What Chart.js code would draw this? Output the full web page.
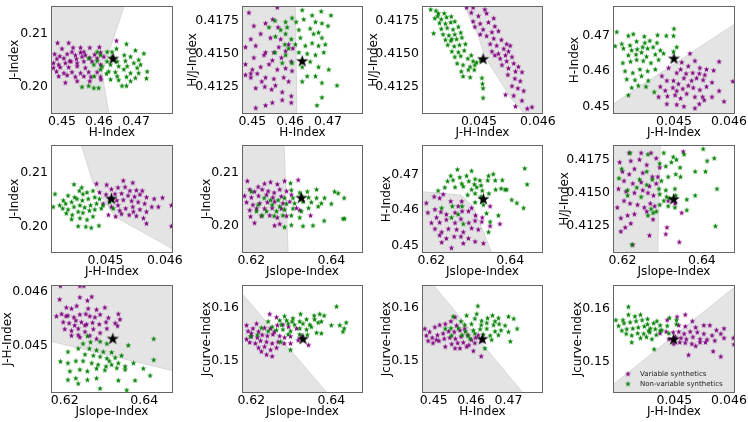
<!DOCTYPE html>
<html>
<head>
<meta charset="utf-8">
<script src="https://cdn.jsdelivr.net/npm/chart.js@4.4.1/dist/chart.umd.min.js"></script>
<style>
  html, body { margin: 0; padding: 0; background: #fff; }
  #wrap { position: relative; width: 748px; height: 422px; overflow: hidden; }
  #wrap canvas { position: absolute; }
</style>
</head>
<body>
<div id="wrap"></div>
<script>
/* ---- tick values & labels ---- */
const hTicks  = [0.45, 0.46, 0.47];
const jTicks  = [0.20, 0.21];
const hjTicks = [0.4125, 0.4150, 0.4175];
const jhTicks = [0.045, 0.046];
const jsTicks = [0.62, 0.64];
const jcTicks = [0.15, 0.16];
const legendLabels = ['Variable synthetics', 'Non-variable synthetics'];

/* ---- P1: H vs J ---- */
const p1Purple = [[0.4488,0.2082],[0.4518,0.2082],[0.4647,0.2086],[0.4500,0.2071],[0.4530,0.2073],[0.4550,0.2073],[0.4575,0.2073],[0.4601,0.2074],[0.4480,0.2061],[0.4494,0.2057],[0.4514,0.2061],[0.4527,0.2065],[0.4550,0.2064],[0.4563,0.2059],[0.4588,0.2060],[0.4604,0.2064],[0.4486,0.2052],[0.4505,0.2053],[0.4521,0.2048],[0.4539,0.2052],[0.4554,0.2056],[0.4575,0.2054],[0.4595,0.2053],[0.4477,0.2044],[0.4491,0.2041],[0.4509,0.2044],[0.4524,0.2047],[0.4541,0.2044],[0.4559,0.2047],[0.4581,0.2047],[0.4477,0.2035],[0.4495,0.2036],[0.4518,0.2036],[0.4541,0.2038],[0.4563,0.2035],[0.4604,0.2041],[0.4485,0.2028],[0.4505,0.2025],[0.4527,0.2027],[0.4550,0.2025],[0.4572,0.2027],[0.4595,0.2027],[0.4491,0.2019],[0.4514,0.2021],[0.4536,0.2018],[0.4559,0.2019],[0.4578,0.2018],[0.4604,0.2018],[0.4509,0.2007],[0.4541,0.2010],[0.4575,0.2010],[0.4605,0.2013],[0.4559,0.2065],[0.4536,0.2059],[0.4613,0.2056]];
const p1Green = [[0.4674,0.2080],[0.4647,0.2071],[0.4698,0.2068],[0.4721,0.2062],[0.4595,0.2065],[0.4622,0.2065],[0.4668,0.2059],[0.4604,0.2059],[0.4635,0.2056],[0.4685,0.2056],[0.4707,0.2050],[0.4572,0.2053],[0.4595,0.2048],[0.4622,0.2047],[0.4649,0.2047],[0.4671,0.2048],[0.4694,0.2044],[0.4712,0.2041],[0.4586,0.2041],[0.4608,0.2038],[0.4631,0.2041],[0.4653,0.2038],[0.4676,0.2038],[0.4703,0.2035],[0.4604,0.2032],[0.4626,0.2028],[0.4644,0.2027],[0.4667,0.2032],[0.4685,0.2025],[0.4730,0.2028],[0.4707,0.2025],[0.4620,0.2024],[0.4649,0.2019],[0.4674,0.2018],[0.4698,0.2016],[0.4728,0.2015],[0.4587,0.2019],[0.4631,0.2013],[0.4653,0.2012],[0.4685,0.2010],[0.4554,0.1999],[0.4572,0.2001],[0.4586,0.1997],[0.4599,0.1997],[0.4662,0.2001],[0.4674,0.2001],[0.4635,0.2065]];
const p1Star = [[0.4638,0.2052]];
const p1Region = [[0.4460,0.2165],[0.4674,0.2165],[0.4608,0.20255],[0.4630,0.1935],[0.4460,0.1935]];

/* ---- P2: H vs H/J ---- */
const p2Purple = [[0.4566,0.4185],[0.4491,0.4181],[0.4504,0.4171],[0.4535,0.4173],[0.4554,0.4176],[0.4568,0.4170],[0.4496,0.4161],[0.4522,0.4165],[0.4548,0.4162],[0.4575,0.4161],[0.4596,0.4157],[0.4482,0.4155],[0.4509,0.4156],[0.4535,0.4151],[0.4557,0.4151],[0.4570,0.4155],[0.4588,0.4152],[0.4607,0.4154],[0.4504,0.4147],[0.4531,0.4149],[0.4553,0.4145],[0.4577,0.4147],[0.4603,0.4144],[0.4482,0.4142],[0.4500,0.4138],[0.4522,0.4140],[0.4544,0.4142],[0.4566,0.4138],[0.4588,0.4139],[0.4605,0.4137],[0.4482,0.4134],[0.4496,0.4132],[0.4513,0.4135],[0.4535,0.4132],[0.4557,0.4131],[0.4583,0.4132],[0.4596,0.4129],[0.4509,0.4124],[0.4533,0.4125],[0.4551,0.4123],[0.4579,0.4121],[0.4603,0.4118],[0.4603,0.4113],[0.4509,0.4109],[0.4535,0.4111],[0.4553,0.4113],[0.4579,0.4115],[0.4496,0.4135],[0.4525,0.4129],[0.4561,0.4126]];
const p2Green = [[0.4632,0.4183],[0.4605,0.4177],[0.4658,0.4179],[0.4682,0.4182],[0.4708,0.4179],[0.4560,0.4175],[0.4588,0.4174],[0.4616,0.4174],[0.4636,0.4176],[0.4667,0.4174],[0.4684,0.4173],[0.4700,0.4171],[0.4544,0.4170],[0.4575,0.4168],[0.4592,0.4170],[0.4623,0.4168],[0.4653,0.4169],[0.4675,0.4166],[0.4561,0.4163],[0.4588,0.4165],[0.4603,0.4161],[0.4627,0.4162],[0.4662,0.4165],[0.4684,0.4162],[0.4586,0.4157],[0.4614,0.4157],[0.4640,0.4156],[0.4658,0.4158],[0.4675,0.4156],[0.4693,0.4157],[0.4560,0.4151],[0.4588,0.4149],[0.4623,0.4151],[0.4645,0.4150],[0.4667,0.4149],[0.4689,0.4151],[0.4579,0.4143],[0.4605,0.4143],[0.4632,0.4140],[0.4653,0.4144],[0.4675,0.4140],[0.4702,0.4138],[0.4645,0.4133],[0.4667,0.4133],[0.4684,0.4128],[0.4724,0.4126],[0.4684,0.4117],[0.4671,0.4111],[0.4632,0.4129],[0.4596,0.4154]];
const p2Star = [[0.4632,0.41444]];
const p2Region = [[0.4460,0.4190],[0.4614,0.4190],[0.4618,0.4100],[0.4460,0.4100]];

/* ---- P3: J-H vs H/J ---- */
const p3Purple = [[0.04479,0.41849],[0.04490,0.41849],[0.04510,0.41834],[0.04487,0.41810],[0.04499,0.41785],[0.04513,0.41805],[0.04525,0.41768],[0.04490,0.41744],[0.04502,0.41727],[0.04516,0.41737],[0.04527,0.41707],[0.04493,0.41703],[0.04507,0.41683],[0.04522,0.41663],[0.04533,0.41671],[0.04547,0.41573],[0.04502,0.41646],[0.04513,0.41634],[0.04525,0.41615],[0.04538,0.41605],[0.04519,0.41573],[0.04530,0.41561],[0.04542,0.41537],[0.04550,0.41517],[0.04522,0.41517],[0.04533,0.41500],[0.04545,0.41488],[0.04556,0.41476],[0.04536,0.41463],[0.04547,0.41444],[0.04559,0.41427],[0.04567,0.41402],[0.04539,0.41415],[0.04550,0.41390],[0.04562,0.41366],[0.04573,0.41361],[0.04549,0.41341],[0.04561,0.41312],[0.04570,0.41293],[0.04556,0.41256],[0.04566,0.41239],[0.04576,0.41219],[0.04545,0.41190],[0.04559,0.41183],[0.04573,0.41146],[0.04582,0.41085],[0.04590,0.41097],[0.04562,0.41102],[0.04527,0.41488],[0.04553,0.41561]];
const p3Green = [[0.04418,0.41834],[0.04427,0.41825],[0.04431,0.41805],[0.04441,0.41805],[0.04425,0.41768],[0.04436,0.41761],[0.04445,0.41776],[0.04453,0.41781],[0.04423,0.41654],[0.04433,0.41732],[0.04443,0.41727],[0.04452,0.41737],[0.04459,0.41744],[0.04436,0.41688],[0.04446,0.41695],[0.04456,0.41683],[0.04465,0.41703],[0.04439,0.41646],[0.04449,0.41639],[0.04459,0.41646],[0.04469,0.41659],[0.04443,0.41605],[0.04452,0.41598],[0.04462,0.41610],[0.04471,0.41622],[0.04447,0.41566],[0.04458,0.41556],[0.04467,0.41566],[0.04477,0.41573],[0.04454,0.41517],[0.04465,0.41512],[0.04475,0.41524],[0.04459,0.41476],[0.04469,0.41483],[0.04481,0.41463],[0.04490,0.41444],[0.04496,0.41434],[0.04463,0.41427],[0.04473,0.41415],[0.04485,0.41402],[0.04493,0.41415],[0.04470,0.41366],[0.04482,0.41378],[0.04492,0.41378],[0.04473,0.41329],[0.04485,0.41322],[0.04505,0.41317],[0.04506,0.41273],[0.04507,0.41239],[0.04507,0.41166],[0.04503,0.41451],[0.04487,0.41488],[0.04454,0.41610],[0.04430,0.41785]];
const p3Star = [[0.04507,0.41459]];
const p3Region = [[0.04474,0.4190],[0.04476,0.41854],[0.04499,0.41634],[0.04510,0.41476],[0.04533,0.41317],[0.04553,0.41171],[0.04576,0.41053],[0.04580,0.4100],[0.0462,0.4100],[0.0462,0.4190]];

/* ---- P4: J-H vs H ---- */
const p4Purple = [[0.04529,0.4650],[0.04538,0.4629],[0.04490,0.4609],[0.04514,0.4625],[0.04526,0.4614],[0.04547,0.4609],[0.04559,0.4605],[0.04572,0.4602],[0.04582,0.4627],[0.04505,0.4595],[0.04512,0.4605],[0.04522,0.4593],[0.04534,0.4595],[0.04546,0.4593],[0.04556,0.4589],[0.04478,0.4586],[0.04487,0.4573],[0.04499,0.4573],[0.04508,0.4564],[0.04518,0.4580],[0.04532,0.4573],[0.04541,0.4580],[0.04553,0.4575],[0.04569,0.4568],[0.04607,0.4571],[0.04475,0.4556],[0.04484,0.4545],[0.04498,0.4553],[0.04505,0.4544],[0.04516,0.4550],[0.04526,0.4559],[0.04535,0.4553],[0.04547,0.4547],[0.04559,0.4556],[0.04582,0.4544],[0.04472,0.4527],[0.04488,0.4529],[0.04502,0.4532],[0.04512,0.4523],[0.04523,0.4536],[0.04538,0.4527],[0.04552,0.4527],[0.04569,0.4527],[0.04487,0.4507],[0.04505,0.4505],[0.04518,0.4500],[0.04538,0.4495],[0.04546,0.4507],[0.04591,0.4514],[0.04555,0.4518]];
const p4Green = [[0.04396,0.4711],[0.04417,0.4700],[0.04426,0.4705],[0.04446,0.4698],[0.04470,0.4702],[0.04486,0.4700],[0.04500,0.4720],[0.04405,0.4677],[0.04420,0.4673],[0.04432,0.4684],[0.04447,0.4680],[0.04456,0.4686],[0.04469,0.4680],[0.04505,0.4668],[0.04408,0.4664],[0.04423,0.4659],[0.04433,0.4662],[0.04443,0.4668],[0.04452,0.4664],[0.04462,0.4668],[0.04475,0.4659],[0.04417,0.4645],[0.04431,0.4647],[0.04441,0.4653],[0.04450,0.4641],[0.04466,0.4647],[0.04481,0.4650],[0.04407,0.4623],[0.04421,0.4627],[0.04432,0.4632],[0.04444,0.4629],[0.04458,0.4623],[0.04472,0.4632],[0.04499,0.4655],[0.04411,0.4600],[0.04425,0.4595],[0.04438,0.4605],[0.04452,0.4600],[0.04466,0.4605],[0.04414,0.4577],[0.04429,0.4575],[0.04441,0.4586],[0.04453,0.4573],[0.04435,0.4559],[0.04449,0.4556],[0.04423,0.4553],[0.04417,0.4532],[0.04464,0.4541],[0.04499,0.4700],[0.04393,0.4671]];
const p4Star = [[0.04500,0.4635]];
const p4Region = [[0.0435,0.4467],[0.0465,0.4774],[0.0465,0.4400],[0.0435,0.4400]];

/* ---- P5: J-H vs J ---- */
const p5Purple = [[0.04485,0.2079],[0.04502,0.2077],[0.04530,0.2085],[0.04546,0.2081],[0.04510,0.2069],[0.04521,0.2072],[0.04533,0.2073],[0.04541,0.2066],[0.04552,0.2067],[0.04562,0.2066],[0.04490,0.2063],[0.04501,0.2059],[0.04516,0.2060],[0.04527,0.2061],[0.04538,0.2057],[0.04549,0.2055],[0.04558,0.2059],[0.04569,0.2054],[0.04582,0.2051],[0.04596,0.2053],[0.04507,0.2051],[0.04519,0.2048],[0.04530,0.2049],[0.04544,0.2047],[0.04555,0.2045],[0.04566,0.2042],[0.04578,0.2036],[0.04589,0.2036],[0.04611,0.2039],[0.04496,0.2042],[0.04510,0.2036],[0.04521,0.2039],[0.04534,0.2033],[0.04546,0.2036],[0.04558,0.2031],[0.04569,0.2027],[0.04505,0.2021],[0.04517,0.2018],[0.04527,0.2023],[0.04540,0.2021],[0.04552,0.2019],[0.04564,0.2015],[0.04569,0.2005],[0.04611,0.2000],[0.04547,0.2027],[0.04524,0.2029]];
const p5Green = [[0.04415,0.2060],[0.04429,0.2048],[0.04437,0.2057],[0.04447,0.2078],[0.04456,0.2066],[0.04462,0.2060],[0.04469,0.2063],[0.04479,0.2066],[0.04423,0.2039],[0.04433,0.2042],[0.04443,0.2045],[0.04452,0.2051],[0.04461,0.2048],[0.04471,0.2051],[0.04482,0.2054],[0.04490,0.2051],[0.04428,0.2033],[0.04437,0.2031],[0.04447,0.2036],[0.04457,0.2039],[0.04465,0.2035],[0.04475,0.2039],[0.04485,0.2042],[0.04496,0.2039],[0.04434,0.2024],[0.04444,0.2021],[0.04454,0.2027],[0.04462,0.2025],[0.04473,0.2029],[0.04482,0.2031],[0.04493,0.2033],[0.04443,0.2013],[0.04457,0.2015],[0.04469,0.2012],[0.04479,0.2018],[0.04454,0.2000],[0.04467,0.1999],[0.04476,0.1997],[0.04489,0.2001],[0.04412,0.2036],[0.04513,0.2033],[0.04507,0.2045],[0.04448,0.2054],[0.04460,0.2072]];
const p5Star = [[0.04510,0.2051]];
const p5Region = [[0.04457,0.2160],[0.04480,0.20779],[0.04516,0.20180],[0.04625,0.19505],[0.0463,0.2160]];

/* ---- P6: Jslope vs J ---- */
const p6Purple = [[0.6190,0.2084],[0.6217,0.2073],[0.6233,0.2079],[0.6248,0.2082],[0.6265,0.2078],[0.6283,0.2084],[0.6317,0.2086],[0.6196,0.2068],[0.6208,0.2064],[0.6227,0.2068],[0.6242,0.2065],[0.6257,0.2062],[0.6271,0.2068],[0.6288,0.2065],[0.6183,0.2056],[0.6200,0.2053],[0.6218,0.2056],[0.6238,0.2058],[0.6254,0.2053],[0.6275,0.2055],[0.6300,0.2058],[0.6188,0.2044],[0.6204,0.2039],[0.6221,0.2042],[0.6240,0.2044],[0.6258,0.2045],[0.6279,0.2042],[0.6296,0.2045],[0.6196,0.2029],[0.6213,0.2032],[0.6233,0.2032],[0.6252,0.2033],[0.6275,0.2032],[0.6313,0.2033],[0.6348,0.2019],[0.6225,0.2018],[0.6246,0.2019],[0.6265,0.2015],[0.6288,0.2018],[0.6208,0.2005],[0.6258,0.2000],[0.6271,0.2003],[0.6198,0.2017],[0.6321,0.2029]];
const p6Green = [[0.6298,0.2080],[0.6200,0.2064],[0.6232,0.2052],[0.6300,0.2067],[0.6321,0.2062],[0.6340,0.2064],[0.6363,0.2068],[0.6408,0.2064],[0.6417,0.2061],[0.6248,0.2048],[0.6267,0.2048],[0.6283,0.2052],[0.6304,0.2052],[0.6325,0.2056],[0.6343,0.2053],[0.6363,0.2052],[0.6383,0.2052],[0.6432,0.2052],[0.6217,0.2039],[0.6252,0.2039],[0.6271,0.2036],[0.6288,0.2041],[0.6308,0.2042],[0.6329,0.2045],[0.6350,0.2044],[0.6375,0.2042],[0.6400,0.2041],[0.6213,0.2027],[0.6238,0.2027],[0.6263,0.2027],[0.6283,0.2030],[0.6304,0.2032],[0.6325,0.2027],[0.6343,0.2033],[0.6367,0.2036],[0.6227,0.2019],[0.6257,0.2018],[0.6279,0.2019],[0.6300,0.2019],[0.6321,0.2015],[0.6433,0.2013],[0.6283,0.1997],[0.6300,0.2001],[0.6329,0.1999],[0.6354,0.2000],[0.6382,0.2009],[0.6429,0.2013]];
const p6Star = [[0.6325,0.2052]];
const p6Region = [[0.6170,0.2160],[0.62815,0.2160],[0.62925,0.1940],[0.6170,0.1940]];

/* ---- P7: Jslope vs H ---- */
const p7Purple = [[0.6187,0.4620],[0.6207,0.4638],[0.6221,0.4634],[0.6230,0.4645],[0.6249,0.4625],[0.6277,0.4625],[0.6302,0.4606],[0.6191,0.4593],[0.6209,0.4602],[0.6224,0.4595],[0.6238,0.4588],[0.6260,0.4593],[0.6278,0.4597],[0.6294,0.4597],[0.6312,0.4585],[0.6329,0.4579],[0.6349,0.4611],[0.6374,0.4561],[0.6200,0.4564],[0.6221,0.4565],[0.6238,0.4573],[0.6260,0.4564],[0.6275,0.4575],[0.6295,0.4564],[0.6311,0.4570],[0.6328,0.4567],[0.6209,0.4547],[0.6226,0.4538],[0.6243,0.4547],[0.6264,0.4545],[0.6281,0.4538],[0.6302,0.4549],[0.6319,0.4545],[0.6349,0.4555],[0.6221,0.4529],[0.6238,0.4520],[0.6258,0.4525],[0.6275,0.4525],[0.6294,0.4520],[0.6311,0.4511],[0.6332,0.4506],[0.6251,0.4493],[0.6226,0.4509],[0.6281,0.4506],[0.6213,0.4579],[0.6268,0.4611]];
const p7Green = [[0.6266,0.4715],[0.6302,0.4711],[0.6437,0.4718],[0.6249,0.4697],[0.6272,0.4693],[0.6289,0.4697],[0.6311,0.4688],[0.6323,0.4684],[0.6345,0.4697],[0.6357,0.4702],[0.6241,0.4682],[0.6255,0.4685],[0.6277,0.4675],[0.6295,0.4682],[0.6309,0.4673],[0.6326,0.4670],[0.6343,0.4684],[0.6362,0.4684],[0.6380,0.4685],[0.6391,0.4658],[0.6217,0.4655],[0.6234,0.4664],[0.6260,0.4665],[0.6281,0.4667],[0.6302,0.4658],[0.6315,0.4665],[0.6329,0.4655],[0.6346,0.4647],[0.6363,0.4658],[0.6377,0.4661],[0.6387,0.4658],[0.6443,0.4673],[0.6292,0.4643],[0.6311,0.4647],[0.6326,0.4638],[0.6404,0.4629],[0.6417,0.4620],[0.6434,0.4606],[0.6226,0.4606],[0.6253,0.4611],[0.6278,0.4611],[0.6311,0.4622],[0.6329,0.4625],[0.6340,0.4591],[0.6370,0.4585],[0.6349,0.4567],[0.6345,0.4538],[0.6332,0.4615],[0.6251,0.4579],[0.6268,0.4588],[0.6281,0.4561]];
const p7Star = [[0.6332,0.4631]];
const p7Region = [[0.6170,0.4653],[0.6275,0.4643],[0.6306,0.4611],[0.6355,0.4475],[0.6170,0.4475]];

/* ---- P8: Jslope vs H/J ---- */
const p8Purple = [[0.6217,0.4180],[0.6247,0.4180],[0.6272,0.4180],[0.6193,0.4173],[0.6221,0.4174],[0.6243,0.4175],[0.6261,0.4171],[0.6285,0.4176],[0.6294,0.4169],[0.6200,0.4166],[0.6217,0.4164],[0.6230,0.4168],[0.6251,0.4165],[0.6275,0.4162],[0.6289,0.4162],[0.6204,0.4159],[0.6226,0.4157],[0.6247,0.4158],[0.6268,0.4155],[0.6285,0.4157],[0.6190,0.4153],[0.6209,0.4151],[0.6230,0.4150],[0.6251,0.4152],[0.6264,0.4150],[0.6278,0.4148],[0.6187,0.4139],[0.6204,0.4144],[0.6219,0.4142],[0.6238,0.4141],[0.6255,0.4139],[0.6270,0.4142],[0.6281,0.4140],[0.6315,0.4144],[0.6332,0.4142],[0.6196,0.4131],[0.6213,0.4133],[0.6230,0.4134],[0.6261,0.4136],[0.6277,0.4130],[0.6207,0.4124],[0.6221,0.4127],[0.6196,0.4121],[0.6226,0.4111],[0.6268,0.4118],[0.6309,0.4119],[0.6312,0.4124],[0.6343,0.4113],[0.6349,0.4135],[0.6353,0.4181]];
const p8Green = [[0.6219,0.4180],[0.6264,0.4179],[0.6304,0.4180],[0.6328,0.4177],[0.6355,0.4179],[0.6403,0.4183],[0.6413,0.4174],[0.6431,0.4176],[0.6198,0.4168],[0.6261,0.4166],[0.6294,0.4172],[0.6309,0.4170],[0.6323,0.4173],[0.6336,0.4175],[0.6345,0.4169],[0.6383,0.4166],[0.6409,0.4166],[0.6191,0.4161],[0.6243,0.4160],[0.6275,0.4160],[0.6298,0.4159],[0.6315,0.4162],[0.6334,0.4164],[0.6346,0.4162],[0.6213,0.4152],[0.6236,0.4154],[0.6261,0.4156],[0.6292,0.4153],[0.6309,0.4152],[0.6332,0.4153],[0.6438,0.4153],[0.6213,0.4148],[0.6247,0.4147],[0.6294,0.4149],[0.6311,0.4147],[0.6334,0.4148],[0.6362,0.4145],[0.6383,0.4148],[0.6272,0.4138],[0.6294,0.4141],[0.6315,0.4140],[0.6332,0.4139],[0.6264,0.4133],[0.6277,0.4135],[0.6285,0.4136],[0.6362,0.4137],[0.6434,0.4125],[0.6224,0.4111],[0.6319,0.4146],[0.6304,0.4144]];
const p8Star = [[0.6329,0.41452]];
const p8Region = [[0.6170,0.4190],[0.62955,0.4190],[0.62885,0.4100],[0.6170,0.4100]];

/* ---- P9: Jslope vs J-H ---- */
const p9Purple = [[0.6189,0.04610],[0.6238,0.04610],[0.6248,0.04610],[0.6187,0.04585],[0.6238,0.04589],[0.6257,0.04583],[0.6268,0.04590],[0.6204,0.04570],[0.6217,0.04568],[0.6230,0.04573],[0.6259,0.04568],[0.6280,0.04566],[0.6301,0.04570],[0.6179,0.04554],[0.6192,0.04558],[0.6208,0.04555],[0.6223,0.04552],[0.6238,0.04557],[0.6253,0.04558],[0.6263,0.04554],[0.6276,0.04552],[0.6289,0.04557],[0.6310,0.04551],[0.6335,0.04558],[0.6196,0.04543],[0.6211,0.04541],[0.6225,0.04537],[0.6242,0.04543],[0.6255,0.04539],[0.6270,0.04542],[0.6287,0.04539],[0.6304,0.04543],[0.6327,0.04541],[0.6339,0.04548],[0.6200,0.04530],[0.6217,0.04527],[0.6234,0.04531],[0.6251,0.04525],[0.6272,0.04530],[0.6289,0.04523],[0.6306,0.04531],[0.6217,0.04518],[0.6238,0.04515],[0.6263,0.04518],[0.6280,0.04512],[0.6251,0.04537],[0.6228,0.04546],[0.6333,0.04536],[0.6234,0.04519],[0.6203,0.04554]];
const p9Green = [[0.6257,0.04517],[0.6246,0.04503],[0.6265,0.04506],[0.6289,0.04507],[0.6306,0.04503],[0.6360,0.04500],[0.6424,0.04512],[0.6208,0.04488],[0.6234,0.04494],[0.6262,0.04494],[0.6280,0.04491],[0.6297,0.04488],[0.6318,0.04487],[0.6251,0.04483],[0.6272,0.04481],[0.6289,0.04479],[0.6306,0.04476],[0.6327,0.04477],[0.6343,0.04481],[0.6189,0.04470],[0.6208,0.04467],[0.6228,0.04471],[0.6246,0.04471],[0.6268,0.04467],[0.6284,0.04464],[0.6304,0.04461],[0.6318,0.04464],[0.6335,0.04467],[0.6352,0.04461],[0.6373,0.04467],[0.6213,0.04452],[0.6238,0.04455],[0.6257,0.04452],[0.6280,0.04457],[0.6301,0.04454],[0.6331,0.04458],[0.6352,0.04455],[0.6398,0.04457],[0.6208,0.04436],[0.6228,0.04439],[0.6257,0.04436],[0.6280,0.04439],[0.6335,0.04435],[0.6356,0.04417],[0.6289,0.04420],[0.6424,0.04473],[0.6415,0.04444],[0.6377,0.04435],[0.6234,0.04429],[0.6312,0.04471]];
const p9Star = [[0.6321,0.045119]];
const p9Region = [[0.6160,0.045085],[0.6480,0.044518],[0.6480,0.0462],[0.6160,0.0462]];

/* ---- P10: Jslope vs Jcurve ---- */
const p10Purple = [[0.6188,0.1567],[0.6213,0.1570],[0.6246,0.1588],[0.6263,0.1582],[0.6192,0.1556],[0.6204,0.1561],[0.6218,0.1555],[0.6233,0.1562],[0.6248,0.1561],[0.6265,0.1567],[0.6279,0.1568],[0.6293,0.1564],[0.6313,0.1561],[0.6188,0.1541],[0.6200,0.1546],[0.6215,0.1544],[0.6227,0.1549],[0.6240,0.1547],[0.6254,0.1550],[0.6271,0.1547],[0.6283,0.1544],[0.6298,0.1546],[0.6317,0.1539],[0.6343,0.1530],[0.6196,0.1535],[0.6210,0.1533],[0.6223,0.1538],[0.6238,0.1536],[0.6252,0.1533],[0.6267,0.1536],[0.6282,0.1533],[0.6298,0.1533],[0.6218,0.1525],[0.6233,0.1527],[0.6248,0.1521],[0.6263,0.1525],[0.6238,0.1512],[0.6252,0.1509],[0.6225,0.1518],[0.6200,0.1552],[0.6325,0.1546],[0.6258,0.1555]];
const p10Green = [[0.6413,0.1602],[0.6283,0.1584],[0.6304,0.1580],[0.6323,0.1588],[0.6357,0.1585],[0.6371,0.1588],[0.6382,0.1585],[0.6242,0.1574],[0.6271,0.1576],[0.6288,0.1576],[0.6302,0.1574],[0.6321,0.1574],[0.6338,0.1578],[0.6358,0.1578],[0.6375,0.1574],[0.6225,0.1562],[0.6252,0.1564],[0.6275,0.1568],[0.6292,0.1570],[0.6308,0.1568],[0.6329,0.1570],[0.6346,0.1568],[0.6367,0.1572],[0.6400,0.1567],[0.6421,0.1567],[0.6437,0.1572],[0.6215,0.1549],[0.6242,0.1556],[0.6263,0.1558],[0.6279,0.1559],[0.6298,0.1556],[0.6321,0.1561],[0.6338,0.1559],[0.6350,0.1564],[0.6363,0.1553],[0.6375,0.1552],[0.6432,0.1561],[0.6429,0.1555],[0.6292,0.1550],[0.6321,0.1550],[0.6340,0.1549],[0.6273,0.1536],[0.6298,0.1521],[0.6198,0.1546]];
const p10Star = [[0.6329,0.15412]];
const p10Region = [[0.6170,0.16321],[0.6400,0.14314],[0.6170,0.1430]];

/* ---- P11: H vs Jcurve ---- */
const p11Purple = [[0.4476,0.1560],[0.4489,0.1554],[0.4503,0.1563],[0.4516,0.1567],[0.4531,0.1569],[0.4546,0.1574],[0.4557,0.1582],[0.4561,0.1566],[0.4480,0.1547],[0.4496,0.1543],[0.4510,0.1548],[0.4525,0.1551],[0.4540,0.1555],[0.4555,0.1554],[0.4570,0.1557],[0.4583,0.1560],[0.4498,0.1533],[0.4514,0.1537],[0.4528,0.1541],[0.4543,0.1543],[0.4558,0.1541],[0.4573,0.1545],[0.4591,0.1548],[0.4601,0.1539],[0.4531,0.1526],[0.4548,0.1531],[0.4564,0.1533],[0.4579,0.1534],[0.4594,0.1529],[0.4610,0.1533],[0.4628,0.1537],[0.4570,0.1523],[0.4588,0.1526],[0.4606,0.1518],[0.4627,0.1508],[0.4557,0.1523],[0.4507,0.1539],[0.4485,0.1537],[0.4612,0.1543],[0.4619,0.1548]];
const p11Green = [[0.4618,0.1603],[0.4615,0.1588],[0.4588,0.1585],[0.4552,0.1583],[0.4573,0.1574],[0.4610,0.1579],[0.4628,0.1575],[0.4644,0.1580],[0.4657,0.1585],[0.4673,0.1580],[0.4700,0.1583],[0.4714,0.1579],[0.4583,0.1567],[0.4601,0.1569],[0.4627,0.1567],[0.4642,0.1571],[0.4660,0.1567],[0.4675,0.1569],[0.4691,0.1566],[0.4531,0.1560],[0.4546,0.1561],[0.4566,0.1561],[0.4585,0.1555],[0.4606,0.1557],[0.4624,0.1559],[0.4642,0.1560],[0.4664,0.1555],[0.4680,0.1557],[0.4700,0.1554],[0.4723,0.1560],[0.4548,0.1547],[0.4576,0.1548],[0.4592,0.1547],[0.4610,0.1551],[0.4633,0.1549],[0.4651,0.1547],[0.4673,0.1548],[0.4705,0.1536],[0.4637,0.1523],[0.4655,0.1539],[0.4597,0.1541],[0.4664,0.1574]];
const p11Star = [[0.4630,0.15405]];
const p11Region = [[0.4460,0.1650],[0.4490,0.16504],[0.4750,0.14291],[0.4460,0.1429]];

/* ---- P12: J-H vs Jcurve ---- */
const p12Purple = [[0.04520,0.1588],[0.04505,0.1584],[0.04487,0.1578],[0.04533,0.1576],[0.04554,0.1568],[0.04508,0.1568],[0.04520,0.1566],[0.04539,0.1564],[0.04565,0.1568],[0.04577,0.1559],[0.04591,0.1562],[0.04474,0.1553],[0.04485,0.1556],[0.04498,0.1555],[0.04508,0.1556],[0.04518,0.1552],[0.04529,0.1556],[0.04542,0.1555],[0.04554,0.1552],[0.04569,0.1549],[0.04585,0.1552],[0.04608,0.1544],[0.04490,0.1542],[0.04502,0.1546],[0.04512,0.1544],[0.04522,0.1542],[0.04534,0.1546],[0.04547,0.1542],[0.04560,0.1541],[0.04574,0.1539],[0.04591,0.1544],[0.04499,0.1533],[0.04510,0.1536],[0.04520,0.1535],[0.04532,0.1533],[0.04547,0.1536],[0.04557,0.1536],[0.04571,0.1519],[0.04526,0.1512],[0.04585,0.1509],[0.04609,0.1532],[0.04539,0.1529]];
const p12Green = [[0.04393,0.1578],[0.04416,0.1603],[0.04416,0.1588],[0.04428,0.1585],[0.04438,0.1588],[0.04451,0.1580],[0.04468,0.1576],[0.04491,0.1582],[0.04504,0.1578],[0.04398,0.1567],[0.04408,0.1572],[0.04419,0.1574],[0.04430,0.1576],[0.04441,0.1578],[0.04451,0.1570],[0.04462,0.1572],[0.04474,0.1568],[0.04487,0.1567],[0.04504,0.1570],[0.04404,0.1558],[0.04413,0.1561],[0.04424,0.1562],[0.04434,0.1564],[0.04445,0.1566],[0.04456,0.1562],[0.04465,0.1561],[0.04477,0.1559],[0.04490,0.1553],[0.04412,0.1552],[0.04422,0.1549],[0.04433,0.1553],[0.04444,0.1552],[0.04455,0.1555],[0.04467,0.1550],[0.04438,0.1544],[0.04449,0.1546],[0.04459,0.1542],[0.04422,0.1536],[0.04463,0.1523],[0.04474,0.1558],[0.04406,0.1578],[0.04453,0.1558]];
const p12Star = [[0.044988,0.15412]];
const p12Region = [[0.0435,0.14248],[0.0465,0.16733],[0.0465,0.1400],[0.0435,0.1400]];

/* ---- axes ---- */
const AXES = {
  H:  { title: 'H-Index',      ticks: hTicks,  dec: 2 },
  J:  { title: 'J-Index',      ticks: jTicks,  dec: 2 },
  HJ: { title: 'H/J-Index',    ticks: hjTicks, dec: 4 },
  JH: { title: 'J-H-Index',    ticks: jhTicks, dec: 3 },
  JS: { title: 'Jslope-Index', ticks: jsTicks, dec: 2 },
  JC: { title: 'Jcurve-Index', ticks: jcTicks, dec: 2 },
};

// box = [left, top, width] of the plot frame; gap = y title centre to frame
const PANELS = [
  { box: [52, 3, 120],   gap: 37, x: 'H',  y: 'J',  xr: [0.4473, 0.4797],   yr: [0.1950, 0.2150],   purple: p1Purple,  green: p1Green,  star: p1Star,  region: p1Region },
  { box: [243, 3, 119],  gap: 50, x: 'H',  y: 'HJ', xr: [0.44754, 0.4790],  yr: [0.41053, 0.41854], purple: p2Purple,  green: p2Green,  star: p2Star,  region: p2Region },
  { box: [423, 3, 119],  gap: 49, x: 'JH', y: 'HJ', xr: [0.04405, 0.04607], yr: [0.41053, 0.41854], purple: p3Purple,  green: p3Green,  star: p3Star,  region: p3Region },
  { box: [614, 3, 120],  gap: 39, x: 'JH', y: 'H',  xr: [0.043909, 0.046091], yr: [0.44818, 0.47818], purple: p4Purple, green: p4Green, star: p4Star, region: p4Region },
  { box: [52, 142, 120], gap: 37, x: 'JH', y: 'J',  xr: [0.04410, 0.04612], yr: [0.19521, 0.21497], purple: p5Purple,  green: p5Green,  star: p5Star,  region: p5Region },
  { box: [243, 142, 119], gap: 36, x: 'JS', y: 'J', xr: [0.61792, 0.64766], yr: [0.19503, 0.21503], purple: p6Purple,  green: p6Green,  star: p6Star,  region: p6Region },
  { box: [423, 142, 119], gap: 36, x: 'JS', y: 'H', xr: [0.61787, 0.64808], yr: [0.44818, 0.47818], purple: p7Purple,  green: p7Green,  star: p7Star,  region: p7Region },
  { box: [614, 142, 120], gap: 49, x: 'JS', y: 'HJ', xr: [0.61787, 0.64808], yr: [0.41056, 0.41853], purple: p8Purple, green: p8Green,  star: p8Star,  region: p8Region },
  { box: [52, 282, 120], gap: 44, x: 'JS', y: 'JH', xr: [0.61679, 0.64701], yr: [0.044137, 0.046101], purple: p9Purple, green: p9Green, star: p9Star, region: p9Region },
  { box: [243, 282, 119], gap: 36, x: 'JS', y: 'JC', xr: [0.61792, 0.64766], yr: [0.14424, 0.16406], purple: p10Purple, green: p10Green, star: p10Star, region: p10Region },
  { box: [423, 282, 119], gap: 36, x: 'H',  y: 'JC', xr: [0.44713, 0.47897], yr: [0.14405, 0.16410], purple: p11Purple, green: p11Green, star: p11Star, region: p11Region },
  { box: [614, 282, 120], gap: 36, x: 'JH', y: 'JC', xr: [0.043896, 0.046092], yr: [0.14424, 0.16424], purple: p12Purple, green: p12Green, star: p12Star, region: p12Region, legend: true },
];

Chart.defaults.font.family = "'DejaVu Sans', sans-serif";
Chart.defaults.color = '#000';

/* ---- star markers ---- */
function starImage(color, r) {
  const c = document.createElement('canvas');
  const s = Math.ceil(r * 2) + 2;
  c.width = c.height = s;
  const g = c.getContext('2d');
  g.beginPath();
  for (let i = 0; i < 10; i++) {
    const rad = i % 2 ? r * 0.382 : r;
    const a = -Math.PI / 2 + i * Math.PI / 5;
    g.lineTo(s / 2 + rad * Math.cos(a), s / 2 + rad * Math.sin(a));
  }
  g.closePath();
  g.fillStyle = color;
  g.fill();
  return c;
}
const purpleStar = starImage('#800080', 3.1);
const greenStar  = starImage('#008000', 3.1);
const blackStar  = starImage('#000000', 6.5);

const framePlugin = {
  id: 'frame',
  afterDatasetsDraw(chart) {
    const { ctx, chartArea: a } = chart;
    ctx.save();
    ctx.strokeStyle = '#666';
    ctx.lineWidth = 1;
    ctx.strokeRect(a.left - 0.5, a.top - 0.5, a.right - a.left + 1, a.bottom - a.top + 1);
    ctx.restore();
  },
};

const legendPlugin = {
  id: 'synthLegend',
  afterDatasetsDraw(chart, args, opts) {
    if (!opts.show) return;
    const { ctx, chartArea: a } = chart;
    ctx.save();
    ctx.font = "7px 'DejaVu Sans'";
    ctx.fillStyle = '#222';
    ctx.textBaseline = 'middle';
    legendLabels.forEach((label, k) => {
      const y = a.top + 88 + k * 10;
      const img = k === 0 ? purpleStar : greenStar;
      ctx.drawImage(img, a.left + 14 - img.width / 2, y - img.height / 2);
      ctx.fillText(label, a.left + 26, y);
    });
    ctx.restore();
  },
};

const toXY = arr => arr.map(([x, y]) => ({ x, y }));
const wrap = document.getElementById('wrap');
const PAD_T = 3, PAD_R = 22, X_BAND = 30, BOX_H = 110;

PANELS.forEach(p => {
  const ax = AXES[p.x];
  const ay = AXES[p.y];
  const [L, T, W] = p.box;
  const yBand = p.gap + 15;

  const cv = document.createElement('canvas');
  cv.width  = yBand + W + PAD_R;
  cv.height = PAD_T + BOX_H + X_BAND;
  cv.style.left = (L - yBand) + 'px';
  cv.style.top  = (T - PAD_T) + 'px';
  wrap.appendChild(cv);

  new Chart(cv, {
    type: 'scatter',
    data: {
      datasets: [
        { data: toXY(p.star),   pointStyle: blackStar,  pointRadius: 6 },
        { data: toXY(p.green),  pointStyle: greenStar,  pointRadius: 3 },
        { data: toXY(p.purple), pointStyle: purpleStar, pointRadius: 3 },
        {
          type: 'line',
          data: toXY(p.region),
          fill: 'shape',
          backgroundColor: '#e4e4e4',
          borderColor: '#d0d0d0',
          borderWidth: 0.8,
          pointRadius: 0,
          tension: 0,
          clip: 0,
        },
      ],
    },
    options: {
      responsive: false,
      animation: false,
      devicePixelRatio: 1,
      events: [],
      layout: { padding: { top: PAD_T, right: PAD_R, left: 0, bottom: 0 } },
      plugins: {
        legend: { display: false },
        tooltip: { enabled: false },
        synthLegend: { show: !!p.legend },
      },
      scales: {
        x: {
          type: 'linear',
          min: p.xr[0],
          max: p.xr[1],
          afterBuildTicks: s => { s.ticks = ax.ticks.map(v => ({ value: v })); },
          afterFit: s => { s.height = X_BAND; s.paddingLeft = 0; s.paddingRight = 0; },
          grid: { display: false, drawTicks: false },
          border: { display: false },
          ticks: {
            color: '#000',
            font: { size: 12.5 },
            padding: 1,
            maxRotation: 0,
            autoSkip: false,
            callback: v => v.toFixed(ax.dec),
          },
          title: { display: true, text: ax.title, color: '#000', font: { size: 12 }, padding: { top: 0, bottom: 3 } },
        },
        y: {
          type: 'linear',
          min: p.yr[0],
          max: p.yr[1],
          afterBuildTicks: s => { s.ticks = ay.ticks.map(v => ({ value: v })); },
          afterFit: s => { s.width = yBand; s.paddingTop = 0; s.paddingBottom = 0; },
          grid: { display: false, drawTicks: false },
          border: { display: false },
          ticks: {
            color: '#000',
            font: { size: 12.5 },
            padding: 4,
            autoSkip: false,
            callback: v => v.toFixed(ay.dec),
          },
          title: { display: true, text: ay.title, color: '#000', font: { size: 12 }, padding: { top: 7.8, bottom: 0 } },
        },
      },
    },
    plugins: [framePlugin, legendPlugin],
  });
});
</script>
</body>
</html>
